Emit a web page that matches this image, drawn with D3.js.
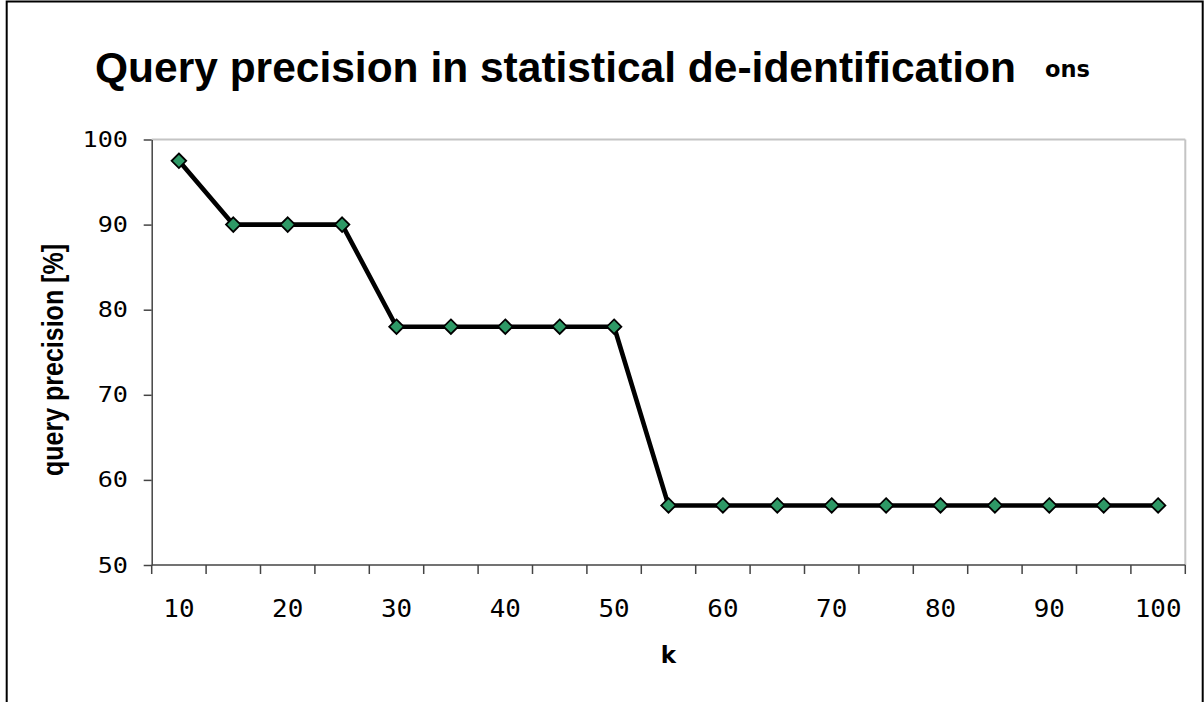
<!DOCTYPE html>
<html>
<head>
<meta charset="utf-8">
<script src="https://cdn.jsdelivr.net/npm/d3@7"></script>
<style>
  html, body { margin: 0; padding: 0; background: #fff; }
  svg { display: block; }
</style>
</head>
<body>
<svg id="chart" width="1204" height="702"></svg>
<script>
const titleText = "Query precision in statistical de-identification";
const titleSuffix = "ons";
const xTitle = "k";
const yTitle = "query precision [%]";
const kValues = [10, 15, 20, 25, 30, 35, 40, 45, 50, 55, 60, 65, 70, 75, 80, 85, 90, 95, 100];
const precision = [97.5, 90, 90, 90, 78, 78, 78, 78, 78, 57, 57, 57, 57, 57, 57, 57, 57, 57, 57];
const xTickLabels = [10, 20, 30, 40, 50, 60, 70, 80, 90, 100];
const yTicks = [50, 60, 70, 80, 90, 100];

const svg = d3.select("#chart");
const plot = { left: 151.7, right: 1185.3, top: 139.5, bottom: 565 };
const mono = "'DejaVu Sans Mono', monospace";

// outer frame
svg.append("rect").attr("x", 6.7).attr("y", 1.5).attr("width", 1196).attr("height", 760)
  .attr("fill", "none").attr("stroke", "#000").attr("stroke-width", 2);

const x = d3.scaleBand().domain(kValues).range([plot.left, plot.right]).padding(0);
const y = d3.scaleLinear().domain([50, 100]).range([plot.bottom, plot.top]);

// plot area top/right borders (light gray)
svg.append("line").attr("x1", plot.left).attr("x2", plot.right).attr("y1", plot.top).attr("y2", plot.top)
  .attr("stroke", "#c4c4c4").attr("stroke-width", 2);
svg.append("line").attr("x1", plot.right).attr("x2", plot.right).attr("y1", plot.top).attr("y2", plot.bottom)
  .attr("stroke", "#c4c4c4").attr("stroke-width", 2);

// Y axis (ticks + line via d3.axis, labels drawn with horizontal stretch)
const yAxis = d3.axisLeft(y).tickValues(yTicks).tickSizeInner(8).tickSizeOuter(0).tickFormat("");
const gy = svg.append("g").attr("transform", `translate(${plot.left},0)`).call(yAxis);
gy.select(".domain").attr("stroke", "#444").attr("stroke-width", 1.5);
gy.selectAll(".tick line").attr("stroke", "#444").attr("stroke-width", 1.5);
svg.append("g").selectAll("text").data(yTicks).join("text")
  .attr("transform", d => `translate(128,${y(d)}) scale(1.2,1)`)
  .attr("text-anchor", "end").attr("dy", "0.36em")
  .attr("font-family", mono).attr("font-size", 21).attr("fill", "#000")
  .text(d => d);

// X axis: ticks between categories
const bounds = kValues.map(k => x(k)).concat([plot.right]);
const gx = svg.append("g");
gx.append("line").attr("x1", plot.left).attr("x2", plot.right).attr("y1", plot.bottom).attr("y2", plot.bottom)
  .attr("stroke", "#444").attr("stroke-width", 1.5);
gx.selectAll("line.tk").data(bounds).join("line").attr("class", "tk")
  .attr("x1", d => d).attr("x2", d => d).attr("y1", plot.bottom).attr("y2", plot.bottom + 9)
  .attr("stroke", "#444").attr("stroke-width", 1.5);
gx.selectAll("text").data(xTickLabels).join("text")
  .attr("transform", d => `translate(${x(d) + x.bandwidth() / 2},617) scale(1.08,1)`)
  .attr("text-anchor", "middle")
  .attr("font-family", mono).attr("font-size", 24)
  .attr("fill", "#000").text(d => d);

// axis titles
svg.append("text").attr("x", (plot.left + plot.right) / 2).attr("y", 663).attr("text-anchor", "middle")
  .attr("font-family", "'DejaVu Sans', sans-serif").attr("font-weight", "bold").attr("font-size", 23)
  .text(xTitle);
svg.append("text").attr("transform", `translate(63,360) rotate(-90) scale(1,1.2)`)
  .attr("text-anchor", "middle")
  .attr("font-family", "'Liberation Sans', Arial, sans-serif").attr("font-weight", "bold").attr("font-size", 25)
  .text(yTitle);

// title
svg.append("text").attr("x", 95).attr("y", 82)
  .attr("font-family", "'Liberation Sans', Arial, sans-serif").attr("font-weight", "bold").attr("font-size", 42.5)
  .text(titleText);
svg.append("text").attr("x", 1045).attr("y", 77)
  .attr("font-family", "'DejaVu Sans', sans-serif").attr("font-weight", "bold").attr("font-size", 22.5)
  .text(titleSuffix);

// line
const cx = d => x(d) + x.bandwidth() / 2;
const line = d3.line().x((d, i) => cx(kValues[i])).y(d => y(d));
svg.append("path").datum(precision).attr("d", line).attr("fill", "none")
  .attr("stroke", "#000").attr("stroke-width", 4.6).attr("stroke-linejoin", "round");

// markers
const sym = d3.symbol().type(d3.symbolDiamond2).size(135);
svg.selectAll("path.mk").data(precision).join("path").attr("class", "mk")
  .attr("transform", (d, i) => `translate(${cx(kValues[i])},${y(d)})`)
  .attr("d", sym).attr("fill", "#2e9966").attr("stroke", "#000").attr("stroke-width", 1.8);
</script>
</body>
</html>
